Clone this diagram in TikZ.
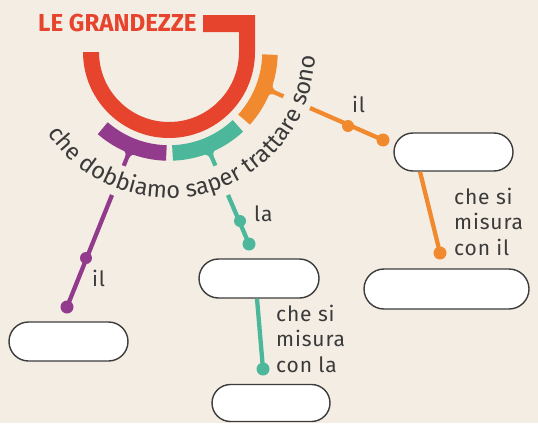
\documentclass[tikz,border=0pt]{standalone}
\usepackage{fontspec}
\setmainfont{Fira Sans}
\newfontfamily\lblfam{Fira Sans}[LetterSpace=4]
\usetikzlibrary{shapes.misc,decorations.text,calc}
\definecolor{bgc}{HTML}{F4EDE3}
\definecolor{redc}{HTML}{E7442E}
\definecolor{orangec}{HTML}{F18A2E}
\definecolor{tealc}{HTML}{4DB79C}
\definecolor{purplec}{HTML}{923A8C}
\definecolor{inkc}{HTML}{3A3A3A}
\definecolor{boxc}{HTML}{3C3C3C}
\newcommand\arcfont{\fontsize{23.5}{27}\selectfont}
\newcommand\lblfont{\lblfam\fontsize{21}{25.5}\selectfont}
\newcommand\ttlfont{\fontsize{24.5}{28}\selectfont\bfseries}
\tikzset{
  stem/.pic={\fill (-4,8.1) -- (0,8.1) arc[start angle=180,end angle=270,radius=6]
     -- (15,2.1) -- (15,-2.1) -- (6,-2.1) arc[start angle=90,end angle=180,radius=6]
     -- (-4,-8.1) -- cycle;}
}
\begin{document}
\begin{tikzpicture}[x=1pt,y=1pt,
  box/.style={rounded rectangle, draw=boxc, line width=1.4pt, fill=white, inner sep=0},
  conn/.style={line width=4.3pt},
  lbl/.style={font=\lblfont, text=inkc, inner sep=0, anchor=base west},
  lblblock/.style={font=\lblfont, text=inkc, inner sep=0, anchor=north west, align=left},
  seg/.style={line width=15.5pt},
]
\useasboundingbox (0,0) rectangle (538,-423);
\fill[bgc] (0,0) rectangle (538,-423);
\coordinate (C) at (169,-52);
% title
\node[anchor=base west, inner sep=0, text=redc, font=\ttlfont, xscale=0.985] (title) at (38,-31.5) {LE GRANDEZZE};
% red hook arc
\fill[redc] (83,-52) arc[start angle=180,end angle=360,radius=86] -- (255,-15) -- (203,-15)
  -- (203,-32) -- (239,-32) -- (239,-52) arc[start angle=0,end angle=-180,radius=70] -- cycle;
% coloured ring segments
\draw[seg,purplec] ($(C)+(229:101)$) arc[start angle=229,end angle=268.5,radius=101];
\draw[seg,tealc] ($(C)+(272:101)$) arc[start angle=272,end angle=313,radius=101];
\draw[seg,orangec] ($(C)+(318:101)$) arc[start angle=318,end angle=358.5,radius=101];
% line points
\coordinate (ps) at (112,-195); \coordinate (pm) at (86,-258); \coordinate (pe) at (67,-307);
\coordinate (ts) at (228,-195); \coordinate (tm) at (240,-221); \coordinate (te) at (249,-244);
\coordinate (os) at (310,-108); \coordinate (om) at (348,-126); \coordinate (oe) at (383,-140);
% stems
\pic[purplec, rotate=248.1] at ($(ps)!-46.5pt!(pe)$) {stem};
\pic[tealc, rotate=293.2] at ($(ts)!-47pt!(te)$) {stem};
\pic[orangec, rotate=336.4] at ($(os)!-44pt!(oe)$) {stem};
% upper connectors
\draw[conn,purplec] (ps) -- (pe);
\fill[purplec] (pm) circle[radius=6] (pe) circle[radius=6.5];
\draw[conn,tealc] (ts) -- (te);
\fill[tealc] (tm) circle[radius=6] (te) circle[radius=6.5];
\draw[conn,orangec] (os) -- (oe);
\fill[orangec] (om) circle[radius=6] (oe) circle[radius=6.5];
% boxes
\node[box, minimum width=119pt, minimum height=38pt] (b1) at (453.5,-152) {};
\node[box, minimum width=165pt, minimum height=40pt] (b2) at (446.5,-289) {};
\node[box, minimum width=119pt, minimum height=39pt] (b3) at (68.5,-341.5) {};
\node[box, minimum width=120pt, minimum height=39pt] (b4) at (259,-278.5) {};
\node[box, minimum width=118pt, minimum height=37pt] (b5) at (271,-403) {};
% lower connectors
\coordinate (o2) at (440,-253);
\coordinate (t2) at (263,-369);
\draw[conn,orangec] ($(b1.south)+(-33.5,0)$) -- (o2);
\fill[orangec] (o2) circle[radius=6.5];
\draw[conn,tealc] ($(b4.south)+(-2,0)$) -- (t2);
\fill[tealc] (t2) circle[radius=6.5];
% labels
\node[lbl] (l1) at (352,-112) {il};
\node[lbl] (l2) at (254,-221) {la};
\node[lbl] (l3) at (92,-286) {il};
\node[lblblock] (l4) at (454,-187.5) {che si\\misura\\con il};
\node[lblblock] (l5) at (276,-304.5) {che si\\misura\\con la};
% arc text
\path[decorate, decoration={text along path, text={|\arcfont|che dobbiamo saper trattare sono},
  text align=fit to path, text color=inkc}]
  ($(C)+(214:146)$) arc[start angle=214,end angle=358.5,radius=146];
\end{tikzpicture}
\end{document}
